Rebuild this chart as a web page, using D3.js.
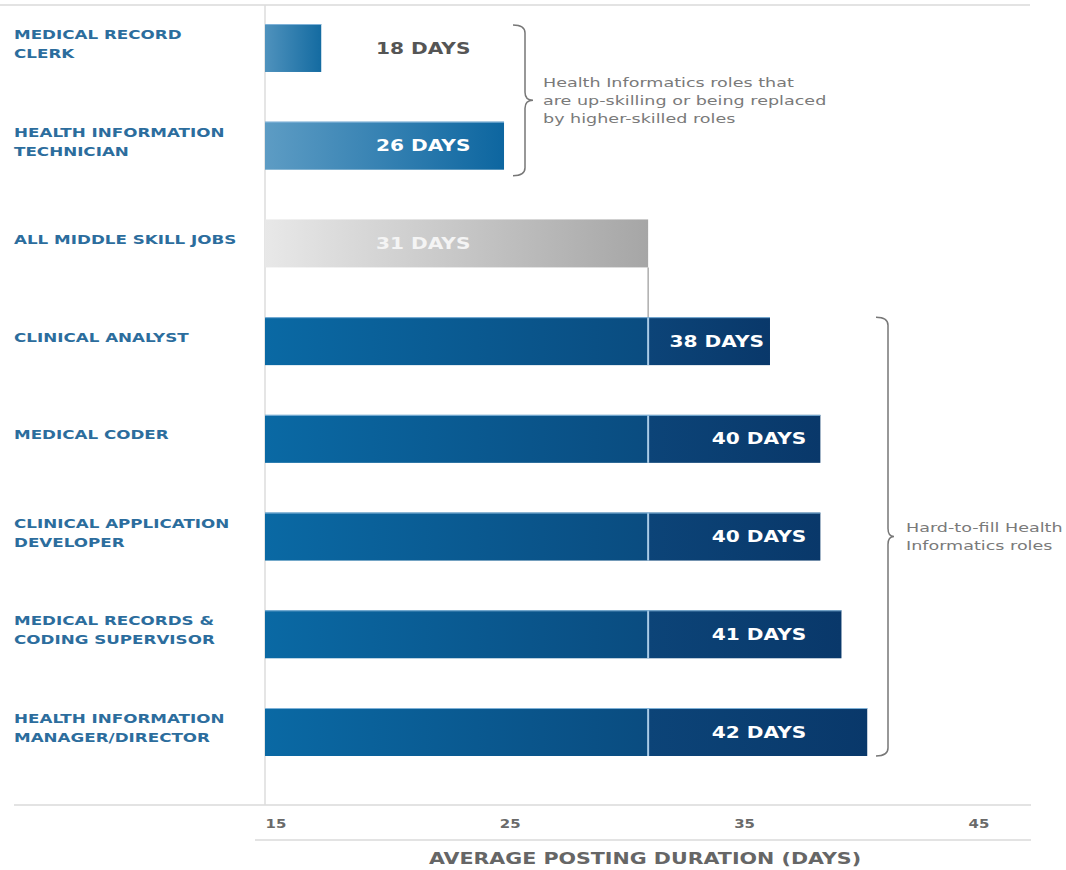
<!DOCTYPE html>
<html>
<head>
<meta charset="utf-8">
<script src="https://cdn.jsdelivr.net/npm/d3@7"></script>
<style>
body { margin: 0; background: #fff; }
svg { display: block; font-family: "DejaVu Sans", Verdana, sans-serif; }
</style>
</head>
<body>
<svg id="chart" width="1066" height="870"></svg>
<script>
// roles, top to bottom
var roles = ["MEDICAL RECORD\nCLERK", "HEALTH INFORMATION\nTECHNICIAN", "ALL MIDDLE SKILL JOBS",
  "CLINICAL ANALYST", "MEDICAL CODER", "CLINICAL APPLICATION\nDEVELOPER",
  "MEDICAL RECORDS &\nCODING SUPERVISOR", "HEALTH INFORMATION\nMANAGER/DIRECTOR"];
var dayLabels = ["18 DAYS", "26 DAYS", "31 DAYS", "38 DAYS", "40 DAYS", "40 DAYS", "41 DAYS", "42 DAYS"];
// where the bars actually end on the axis (the original bars don't match their labels exactly)
var barEnds = [17.4, 25.2, 31.35, 36.55, 38.7, 38.7, 39.6, 40.7];
var groups = ["up", "up", "all", "hard", "hard", "hard", "hard", "hard"];
var ticks = [15, 25, 35, 45];
var upNote = ["Health Informatics roles that", "are up-skilling or being replaced", "by higher-skilled roles"];
var hardNote = ["Hard-to-fill Health", "Informatics roles"];
var axisTitle = "AVERAGE POSTING DURATION (DAYS)";

var SX = 1.3; // the original is stretched sideways

var svg = d3.select('svg#chart');

var x = d3.scaleLinear().domain([15, 45]).range([265, 968]);
var y = d3.scaleBand().domain(roles).range([24, 756]).paddingInner(0.509).paddingOuter(0);
var bw = y.bandwidth();
var avg = barEnds[groups.indexOf('all')];

// gradients
var defs = svg.append('defs');
function grad(id, c0, c1) {
  var g = defs.append('linearGradient').attr('id', id);
  g.append('stop').attr('offset', '0%').attr('stop-color', c0);
  g.append('stop').attr('offset', '100%').attr('stop-color', c1);
}
grad('gUp0', '#4f92bd', '#146ba1');
grad('gUp1', '#5d9cc4', '#0d66a0');
grad('gAll', '#e8e8e8', '#a6a6a6');
grad('gBlue', '#0a69a4', '#0a4c80');
grad('gDark', '#0c4478', '#09386a');

// frame lines
svg.append('line').attr('x1', 0).attr('x2', 1030).attr('y1', 5).attr('y2', 5)
  .attr('stroke', '#e3e3e3').attr('stroke-width', 2);
svg.append('line').attr('x1', 14).attr('x2', 1031).attr('y1', 805).attr('y2', 805)
  .attr('stroke', '#e3e3e3').attr('stroke-width', 2);
svg.append('line').attr('x1', 255).attr('x2', 1031).attr('y1', 840).attr('y2', 840)
  .attr('stroke', '#e3e3e3').attr('stroke-width', 2);
svg.append('line').attr('x1', x(15)).attr('x2', x(15)).attr('y1', 5).attr('y2', 805)
  .attr('stroke', '#dcdcdc').attr('stroke-width', 1.5);

var data = roles.map((r, i) => ({ role: r, end: barEnds[i], label: dayLabels[i], group: groups[i], i: i }));

var gs = svg.selectAll('g.bar').data(data).enter().append('g').attr('class', 'bar');

// single bars (up-skilling roles and the middle skill average)
gs.filter(d => d.group != 'hard').append('rect')
  .attr('x', x(15))
  .attr('y', d => y(d.role))
  .attr('width', d => x(d.end) - x(15))
  .attr('height', bw)
  .attr('fill', d => d.group == 'all' ? 'url(#gAll)' : 'url(#gUp' + d.i + ')');

// hard-to-fill: part up to the average + part above it
var hard = gs.filter(d => d.group == 'hard');
hard.append('rect')
  .attr('x', x(15))
  .attr('y', d => y(d.role))
  .attr('width', x(avg) - x(15))
  .attr('height', bw)
  .attr('fill', 'url(#gBlue)');
hard.append('rect')
  .attr('x', x(avg))
  .attr('y', d => y(d.role))
  .attr('width', d => x(d.end) - x(avg))
  .attr('height', bw)
  .attr('fill', 'url(#gDark)');
hard.append('line')
  .attr('x1', x(avg)).attr('x2', x(avg))
  .attr('y1', d => y(d.role)).attr('y2', d => y(d.role) + bw)
  .attr('stroke', '#a9cbe6').attr('stroke-width', 2);
// thin light edge on top of the blue bars
gs.filter(d => d.group != 'all').append('line')
  .attr('x1', x(15)).attr('x2', d => x(d.end))
  .attr('y1', d => y(d.role) + 0.5).attr('y2', d => y(d.role) + 0.5)
  .attr('stroke', '#7fb2d8').attr('stroke-width', 1);

// connector from the average bar down to the first hard bar
svg.append('line')
  .attr('x1', x(avg)).attr('x2', x(avg))
  .attr('y1', y(roles[2]) + bw).attr('y2', y(roles[3]))
  .attr('stroke', '#999').attr('stroke-width', 1.2);

// day labels
gs.append('g')
  .attr('transform', d => {
    var px = d.group == 'hard' ? Math.min(x(d.end) - 6, x(38.1)) : x(21.75);
    return 'translate(' + px + ',' + (y(d.role) + bw / 2) + ') scale(' + SX + ',1)';
  })
  .append('text')
  .attr('text-anchor', d => d.group == 'hard' ? 'end' : 'middle')
  .attr('dy', '0.36em')
  .attr('font-size', 15.5)
  .attr('font-weight', 'bold')
  .attr('fill', d => d.i == 0 ? '#555' : (d.group == 'all' ? '#f4f4f4' : '#fff'))
  .text(d => d.label);

// role labels
var rl = gs.append('g')
  .attr('transform', d => 'translate(14,' + (y(d.role) + bw / 2 - 4) + ') scale(' + (SX + 0.04) + ',1)')
  .append('text')
  .attr('font-size', 12.5)
  .attr('font-weight', 'bold')
  .attr('fill', '#2c6d9d');
rl.each(function(d) {
  var lines = d.role.split('\n');
  var t = d3.select(this);
  lines.forEach((l, k) => {
    t.append('tspan').attr('x', 0)
      .attr('y', (k - (lines.length - 1) / 2) * 19)
      .attr('dy', '0.36em')
      .text(l);
  });
});

// braces
function brace(x0, xs, xp, y0, y1) {
  var ym = (y0 + y1) / 2, r = 8;
  return 'M' + x0 + ',' + y0 + ' Q' + xs + ',' + y0 + ' ' + xs + ',' + (y0 + r) +
    ' L' + xs + ',' + (ym - r) + ' Q' + xs + ',' + ym + ' ' + xp + ',' + ym +
    ' Q' + xs + ',' + ym + ' ' + xs + ',' + (ym + r) +
    ' L' + xs + ',' + (y1 - r) + ' Q' + xs + ',' + y1 + ' ' + x0 + ',' + y1;
}
function note(lines, px, py) {
  var t = svg.append('g')
    .attr('transform', 'translate(' + px + ',' + py + ') scale(' + (SX + 0.05) + ',1)')
    .append('text')
    .attr('font-size', 13)
    .attr('fill', '#7a7a7a');
  lines.forEach((l, k) => {
    t.append('tspan').attr('x', 0)
      .attr('y', (k - (lines.length - 1) / 2) * 18)
      .attr('dy', '0.36em')
      .text(l);
  });
}
var b1y0 = y(roles[0]) + 1, b1y1 = y(roles[1]) + bw + 6;
svg.append('path').attr('d', brace(513, 525, 533, b1y0, b1y1))
  .attr('fill', 'none').attr('stroke', '#777').attr('stroke-width', 1.5);
note(upNote, 543, (b1y0 + b1y1) / 2);

var b2y0 = y(roles[3]), b2y1 = y(roles[7]) + bw;
svg.append('path').attr('d', brace(876, 888, 894, b2y0, b2y1))
  .attr('fill', 'none').attr('stroke', '#777').attr('stroke-width', 1.5);
note(hardNote, 906, (b2y0 + b2y1) / 2);

// x axis
var ax = svg.append('g').attr('transform', 'translate(0,824)')
  .call(d3.axisBottom(x).tickValues(ticks).tickSize(0).tickPadding(0));
ax.select('.domain').remove();
ax.selectAll('text')
  .attr('text-anchor', 'start')
  .attr('y', 0)
  .attr('dy', '0.36em')
  .attr('transform', 'scale(' + SX + ',1)')
  .attr('font-family', '"DejaVu Sans", Verdana, sans-serif')
  .attr('font-size', 11.5)
  .attr('font-weight', 'bold')
  .attr('fill', '#6a6a6a');

svg.append('g')
  .attr('transform', 'translate(645,858) scale(' + (SX + 0.03) + ',1)')
  .append('text')
  .attr('text-anchor', 'middle')
  .attr('dy', '0.36em')
  .attr('font-size', 15.5)
  .attr('font-weight', 'bold')
  .attr('fill', '#666')
  .text(axisTitle);
</script>
</body>
</html>
